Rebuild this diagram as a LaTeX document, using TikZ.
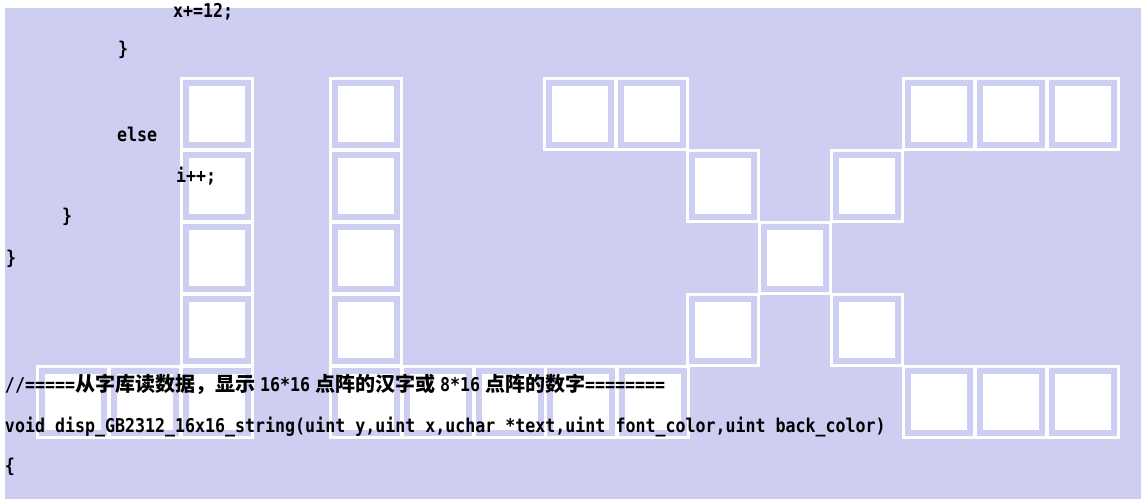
\documentclass[tikz,border=0pt]{standalone}
\usepackage{fontspec}
\newfontfamily\codefont{DejaVu Sans Mono}[FakeStretch=0.875]
\newfontfamily\cjkfont{Noto Sans CJK SC}
\definecolor{lav}{RGB}{206,206,242}
\newcommand\zh[1]{{\cjkfont\bfseries\fontsize{20pt}{20pt}\selectfont #1}}
\begin{document}
\begin{tikzpicture}[x=1pt,y=-1pt,
  code/.style={anchor=base west, inner sep=0pt, outer sep=0pt, text=black,
    font=\codefont\bfseries\fontsize{19pt}{19pt}\selectfont},
  cellbox/.style={draw=white, line width=3pt, minimum size=71pt, inner sep=0pt,
    outer sep=0pt, anchor=north west,
    path picture={\fill[white] ([shift={(-28pt,-28pt)}]path picture bounding box.center) rectangle ++(56pt,56pt);}}]
\useasboundingbox (0,0) rectangle (1141,499);
\fill[white] (0,0) rectangle (1141,499);
\fill[lav] (5,8) rectangle (1141,499);
% cells
\foreach \c/\x in {2/180,4/329,7/543,8/615,12/902,13/974,14/1046}
  \node[cellbox] (c1-\c) at (\x+1.5,77+1.5) {};
\foreach \c/\x in {2/180,4/329,9/686,11/830}
  \node[cellbox] (c2-\c) at (\x+1.5,149+1.5) {};
\foreach \c/\x in {2/180,4/329,10/758}
  \node[cellbox] (c3-\c) at (\x+1.5,221+1.5) {};
\foreach \c/\x in {2/180,4/329,9/686,11/830}
  \node[cellbox] (c4-\c) at (\x+1.5,293+1.5) {};
\foreach \c/\x in {0/36,1/108,2/180,4/329,5/401,6/473,7/544,8/616,12/902,13/974,14/1046}
  \node[cellbox] (c5-\c) at (\x+1.5,365+1.5) {};
% text
\node[code] (t1) at (173,17) {x+=12;};
\node[code] (t2) at (118,55) {\}};
\node[code] (t3) at (117,141) {else};
\node[code] (t4) at (176,182) {i++;};
\node[code] (t5) at (62,222) {\}};
\node[code] (t6) at (6,264) {\}};
\node[code] (t7) at (5,391) {//=====\zh{从字库读数据，显示}\hspace{5pt}16*16\hspace{5pt}\zh{点阵的汉字或}\hspace{5pt}8*16\hspace{5pt}\zh{点阵的数字}========};
\node[code] (t8) at (5,432) {void disp\_GB2312\_16x16\_string(uint y,uint x,uchar *text,uint font\_color,uint back\_color)};
\node[code] (t9) at (5,472) {\{};
\end{tikzpicture}
\end{document}
